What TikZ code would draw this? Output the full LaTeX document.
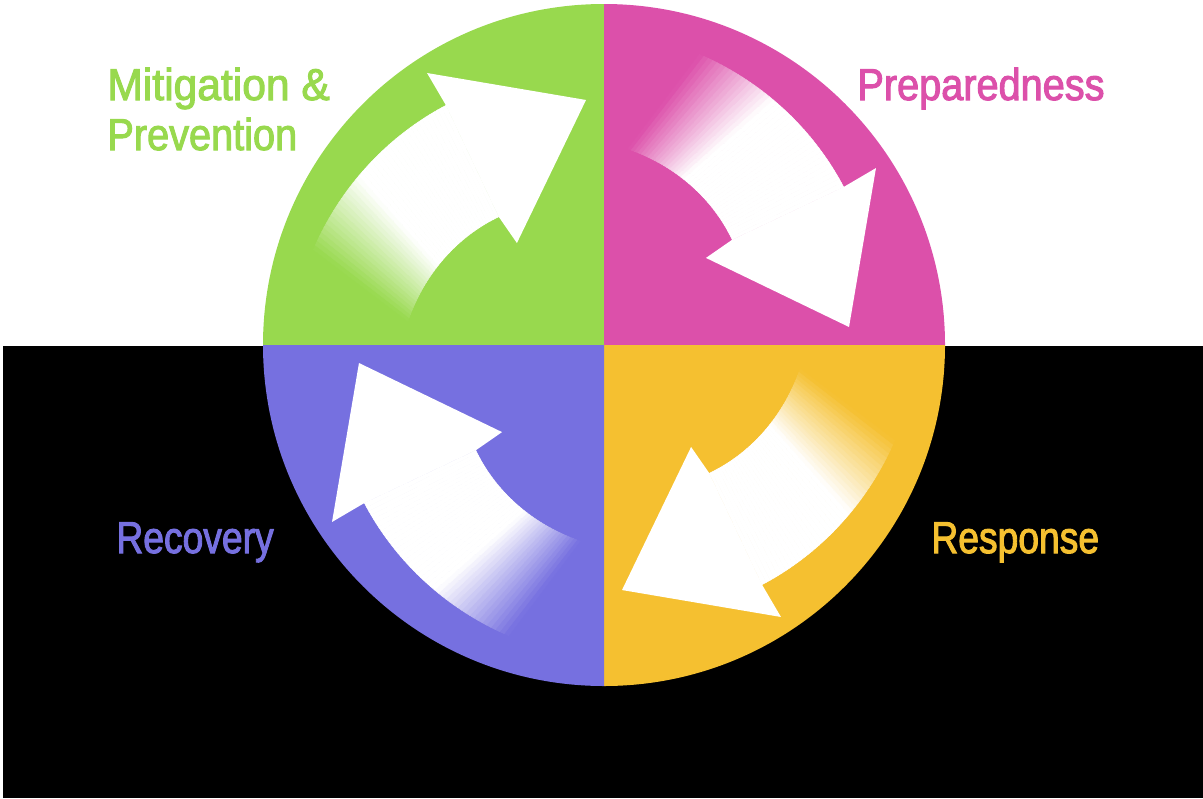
\documentclass[tikz,border=0pt]{standalone}
\usepackage{fontspec}
\setmainfont{Liberation Sans}
\newfontfamily\lblfont[FakeBold=2.4]{Liberation Sans}
\definecolor{qgreen}{HTML}{98D94E}
\definecolor{qmagenta}{HTML}{DC50AA}
\definecolor{qpurple}{HTML}{7670E0}
\definecolor{qyellow}{HTML}{F5C030}
\newcommand\cyclearrow[2]{%
 \begin{scope}[shift={(604,-345)},rotate=#1]
  \foreach \k in {41,40,...,0}{%
   \pgfmathsetmacro\ta{\k/40}%
   \pgfmathsetmacro\tb{(\k+1)/40}%
   \pgfmathsetmacro\tm{(\k+0.5)/40}%
   \pgfmathtruncatemacro\w{\tm<0.6 ? 100 : max(0,100*(1.05-\tm)/0.45)}%
   \filldraw[line width=0.3pt, fill=white!\w!#2, draw=white!\w!#2]
     ({123.4+36.6*\ta}:{287+18*\ta}) -- ({123.4+36.6*\tb}:{287+18*\tb})
     -- ({129.4+41.6*\tb}:{166+30*\tb}) -- ({129.4+41.6*\ta}:{166+30*\ta}) -- cycle;
  }
  \fill[white] (123.4:287) -- (123.05:324.5) -- (94.2:245.7) -- (130.5:134.1) -- (129.4:165.6) -- cycle;
 \end{scope}}
\begin{document}
\begin{tikzpicture}[x=0.5pt,y=0.5pt,
  lbl/.style={font=\lblfont\fontsize{22.3pt}{26pt}\selectfont, anchor=base west, inner sep=0pt}]
\useasboundingbox (0,0) rectangle (1203,-798);
\fill[white] (0,0) rectangle (1203,-346);
\fill[black] (3,-346) rectangle (1203,-798);
\coordinate (c) at (604,-345);
\fill[qgreen]   (c) -- ++(180:341) arc[start angle=180,end angle=90,radius=341] -- cycle;
\fill[qmagenta] (c) -- ++(90:341) arc[start angle=90,end angle=0,radius=341] -- cycle;
\fill[qyellow]  (c) -- ++(0:341) arc[start angle=0,end angle=-90,radius=341] -- cycle;
\fill[qpurple]  (c) -- ++(270:341) arc[start angle=270,end angle=180,radius=341] -- cycle;
\cyclearrow{0}{qgreen}
\cyclearrow{-90}{qmagenta}
\cyclearrow{-180}{qyellow}
\cyclearrow{90}{qpurple}
\node[lbl, text=qgreen] (mit) at (107,-100) {\scalebox{0.955}[1]{Mitigation \&}};
\node[lbl, text=qgreen] (prev) at (107,-150) {\scalebox{0.89}[1]{Prevention}};
\node[lbl, text=qmagenta] (prep) at (857,-100) {\scalebox{0.89}[1]{Preparedness}};
\node[lbl, text=qpurple] (rec) at (116,-553) {\scalebox{0.835}[1]{Recovery}};
\node[lbl, text=qyellow] (resp) at (931,-553) {\scalebox{0.835}[1]{Response}};
\end{tikzpicture}
\end{document}
